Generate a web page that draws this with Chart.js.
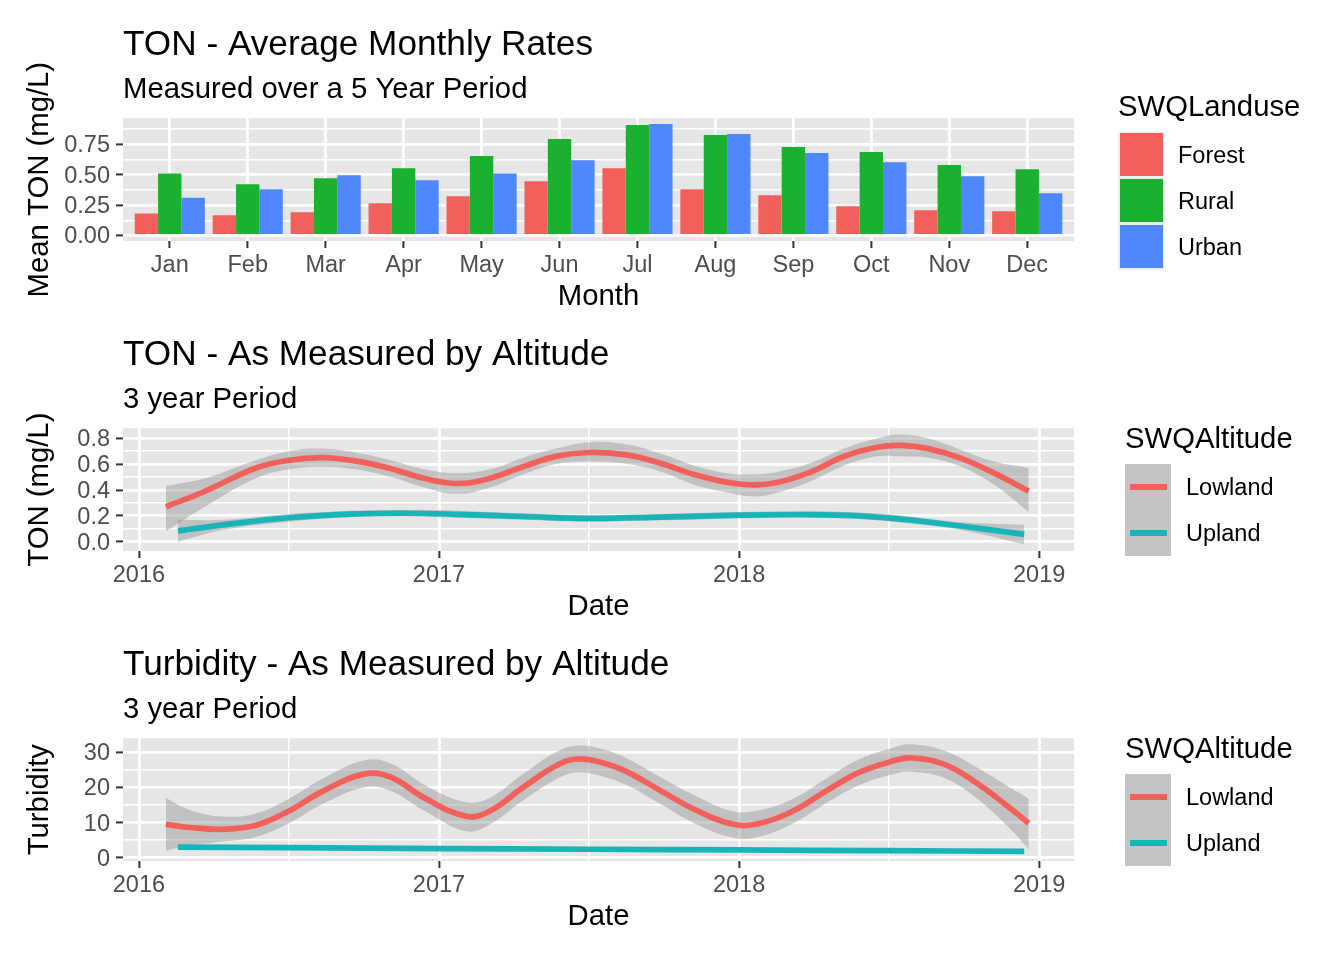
<!DOCTYPE html>
<html>
<head>
<meta charset="utf-8">
<title>SWQ TON and Turbidity</title>
<script src="https://cdn.jsdelivr.net/npm/chart.js@4.4.0/dist/chart.umd.min.js"></script>
<style>
    body { margin: 0; background: #fff; width: 1344px; height: 960px; position: relative; overflow: hidden;
           font-family: "Liberation Sans", Arial, sans-serif; }
    .panel { position: absolute; left: 0; width: 1344px; height: 310px; }
    .legend { position: absolute; color: #000; }
    .legend-title { position: absolute; left: 0; font-size: 29.3px; line-height: 35px; white-space: nowrap; }
    .legend-key { position: absolute; left: 0; width: 46px; height: 46px; }
    .legend-label { position: absolute; font-size: 23.5px; line-height: 46px; white-space: nowrap; }
</style>
</head>
<body>
<div class="panel" style="top:0px"><canvas id="monthlyChart"></canvas></div>
<div class="panel" style="top:310px"><canvas id="tonChart"></canvas></div>
<div class="panel" style="top:620px"><canvas id="turbChart"></canvas></div>

<script>
const FONT = "'Liberation Sans', Arial, sans-serif";

// --- monthly bar data (mean TON mg/L) ---
const months = ['Jan', 'Feb', 'Mar', 'Apr', 'May', 'Jun', 'Jul', 'Aug', 'Sep', 'Oct', 'Nov', 'Dec'];
const landuse = ['Forest', 'Rural', 'Urban'];
const forestTon = [0.18, 0.165, 0.19, 0.264, 0.322, 0.446, 0.553, 0.38, 0.33, 0.239, 0.206, 0.198];
const ruralTon = [0.51, 0.42, 0.47, 0.553, 0.652, 0.792, 0.908, 0.825, 0.726, 0.685, 0.578, 0.545];
const urbanTon = [0.31, 0.38, 0.495, 0.454, 0.51, 0.619, 0.916, 0.833, 0.677, 0.602, 0.487, 0.347];

// --- TON by altitude (smoothed, decimal years) ---
const altitude = ['Lowland', 'Upland'];
const lowTonDates = [2016.09, 2016.22, 2016.39, 2016.50, 2016.61, 2016.72, 2016.84, 2016.95, 2017.06, 2017.17,
    2017.28, 2017.39, 2017.50, 2017.63, 2017.74, 2017.85, 2017.96, 2018.05, 2018.13, 2018.24,
    2018.35, 2018.46, 2018.54, 2018.63, 2018.74, 2018.85, 2018.965];
const lowTon = [0.27, 0.39, 0.57, 0.63, 0.65, 0.625, 0.565, 0.49, 0.45, 0.49,
    0.58, 0.66, 0.69, 0.67, 0.605, 0.52, 0.46, 0.44, 0.46, 0.54,
    0.66, 0.73, 0.745, 0.72, 0.645, 0.53, 0.39];
const lowTonLo = [0.08, 0.27, 0.49, 0.56, 0.58, 0.56, 0.50, 0.42, 0.37, 0.42,
    0.52, 0.60, 0.62, 0.60, 0.54, 0.44, 0.38, 0.35, 0.38, 0.47,
    0.59, 0.66, 0.66, 0.65, 0.58, 0.44, 0.23];
const lowTonHi = [0.43, 0.49, 0.63, 0.70, 0.72, 0.69, 0.63, 0.56, 0.53, 0.56,
    0.65, 0.72, 0.77, 0.75, 0.68, 0.59, 0.53, 0.52, 0.54, 0.61,
    0.72, 0.80, 0.83, 0.80, 0.71, 0.62, 0.57];
const upTonDates = [2016.13, 2016.28, 2016.50, 2016.72, 2016.89, 2017.06, 2017.28, 2017.50, 2017.74, 2018.00,
    2018.24, 2018.40, 2018.57, 2018.74, 2018.95];
const upTon = [0.083, 0.13, 0.185, 0.215, 0.22, 0.212, 0.195, 0.18, 0.19, 0.205, 0.21, 0.2, 0.168, 0.121, 0.057];
const upTonLo = [0.0, 0.09, 0.155, 0.19, 0.195, 0.185, 0.17, 0.155, 0.165, 0.18, 0.185, 0.175, 0.14, 0.09, -0.02];
const upTonHi = [0.17, 0.17, 0.215, 0.24, 0.245, 0.24, 0.22, 0.205, 0.215, 0.23, 0.235, 0.225, 0.195, 0.15, 0.13];

// --- Turbidity by altitude ---
const lowTurbDates = [2016.09, 2016.17, 2016.28, 2016.39, 2016.50, 2016.61, 2016.75, 2016.84, 2016.95, 2017.09,
    2017.17, 2017.28, 2017.39, 2017.46, 2017.55, 2017.63, 2017.74, 2017.85, 2017.98, 2018.07,
    2018.18, 2018.29, 2018.40, 2018.515, 2018.57, 2018.68, 2018.79, 2018.90, 2018.965];
const lowTurb = [9.5, 8.6, 8.1, 9.2, 13.3, 18.8, 23.8, 22.9, 17.1, 11.8,
    13.3, 20.0, 26.2, 28.1, 26.9, 24.3, 19.0, 13.8, 9.5, 9.8,
    13.3, 19.0, 24.3, 27.6, 28.4, 26.7, 21.4, 14.3, 9.8];
const lowTurbLo = [2.0, 3.5, 4.6, 5.9, 9.8, 15.2, 20.0, 19.0, 13.4, 7.5,
    9.5, 16.3, 22.3, 24.3, 23.0, 20.5, 15.2, 9.8, 5.7, 6.0,
    9.8, 15.5, 20.6, 23.8, 24.5, 22.8, 17.0, 8.5, 2.4];
const lowTurbHi = [17.0, 13.6, 11.7, 12.6, 16.8, 22.4, 27.7, 26.8, 20.8, 15.8,
    17.1, 23.8, 30.1, 31.9, 30.8, 28.1, 22.8, 17.8, 13.2, 13.6,
    16.8, 22.5, 28.0, 31.4, 32.3, 30.6, 25.8, 20.1, 16.8];
const upTurbDates = [2016.13, 2016.5, 2017.0, 2017.5, 2018.0, 2018.5, 2018.95];
const upTurb = [3.0, 2.85, 2.6, 2.4, 2.2, 2.0, 1.8];
const upTurbLo = [2.6, 2.6, 2.4, 2.2, 2.0, 1.8, 1.4];
const upTurbHi = [3.4, 3.1, 2.8, 2.6, 2.4, 2.2, 2.2];

const landuseColors = ['#F2605C', '#1BB02F', '#4F87FF'];
const altitudeColors = ['#F2605C', '#18B4B8'];
const ribbonFill = 'rgba(153,153,153,0.48)';

// grey ggplot-like panel behind the grid
const panelBg = {
    id: 'panelBg',
    beforeDraw(chart) {
        const { ctx, chartArea: a } = chart;
        ctx.save();
        ctx.fillStyle = '#E6E6E6';
        ctx.fillRect(a.left, a.top, a.width, a.height);
        ctx.restore();
    }
};

function isStep(v, step) {
    return Math.abs(v / step - Math.round(v / step)) < 1e-6;
}

function axis(cfg) {
    const horizontal = cfg.horizontal;
    return {
        type: 'linear',
        min: cfg.min,
        max: cfg.max,
        offset: false,
        afterBuildTicks: s => { s.ticks = cfg.ticks.map(v => ({ value: v })); },
        afterFit: s => { if (horizontal) s.height = 69; else s.width = 123; },
        border: { display: false },
        grid: {
            offset: false,
            color: '#fff',
            lineWidth: c => cfg.isMajor(c.tick.value) ? 2.8 : 1.4,
            tickColor: c => cfg.isMajor(c.tick.value) ? '#333' : 'rgba(0,0,0,0)',
            tickLength: 7,
            tickWidth: 2
        },
        ticks: {
            autoSkip: false,
            maxRotation: 0,
            padding: horizontal ? 3 : 6,
            labelOffset: horizontal ? 0 : 1.5,
            color: '#4D4D4D',
            font: { family: FONT, size: 23.5, lineHeight: 1.2 },
            callback: v => cfg.isMajor(v) ? cfg.fmt(v) : ''
        },
        title: {
            display: true,
            text: cfg.title,
            color: '#000',
            font: { family: FONT, size: 29.3, lineHeight: 1 },
            padding: horizontal ? { top: 0, bottom: -2 } : { top: 25.4, bottom: 0 }
        }
    };
}

function baseOptions(title, subtitle, x, y) {
    return {
        responsive: true,
        maintainAspectRatio: false,
        animation: false,
        layout: { padding: { top: 23.9, right: 270, bottom: 0, left: 0 } },
        plugins: {
            legend: { display: false },
            tooltip: { enabled: false },
            title: {
                display: true, text: title, align: 'start', fullSize: false, color: '#000',
                font: { family: FONT, size: 35.2, lineHeight: 1.2, weight: 'normal' },
                padding: { top: 0, bottom: 0 }
            },
            subtitle: {
                display: true, text: subtitle, align: 'start', fullSize: false, color: '#000',
                font: { family: FONT, size: 29.3, lineHeight: 1.2, weight: 'normal' },
                padding: { top: 6.3, bottom: 10.7 }
            }
        },
        scales: { x: x, y: y }
    };
}

function toPoints(xs, ys) {
    return xs.map((x, i) => ({ x: x, y: ys[i] }));
}

function smoothDatasets(groups) {
    // ribbons first (hi fills down to lo), then the lines on top
    const sets = [];
    groups.forEach(g => {
        sets.push({ data: toPoints(g.dates, g.hi), borderWidth: 0, pointRadius: 0, tension: 0.4,
            fill: '+1', backgroundColor: ribbonFill, order: 1 });
        sets.push({ data: toPoints(g.dates, g.lo), borderWidth: 0, pointRadius: 0, tension: 0.4,
            fill: false, order: 1 });
    });
    groups.forEach(g => {
        sets.push({ label: g.label, data: toPoints(g.dates, g.mean), borderColor: g.color, borderWidth: 5.7,
            pointRadius: 0, tension: 0.4, fill: false, order: 0 });
    });
    return sets;
}

const monthIdx = months.map((m, i) => i + 1);
const dateTicks = [2016, 2016.5, 2017, 2017.5, 2018, 2018.5, 2019];

// Panel 1: bars
new Chart(document.getElementById('monthlyChart').getContext('2d'), {
    type: 'bar',
    data: {
        datasets: [forestTon, ruralTon, urbanTon].map((vals, k) => ({
            label: landuse[k],
            data: toPoints(monthIdx, vals),
            backgroundColor: landuseColors[k],
            borderWidth: 0,
            categoryPercentage: 0.9,
            barPercentage: 1.0
        }))
    },
    options: baseOptions('TON - Average Monthly Rates', 'Measured over a 5 Year Period',
        axis({ horizontal: true, min: 0.4, max: 12.6, ticks: monthIdx, isMajor: () => true,
            fmt: v => months[Math.round(v) - 1], title: 'Month' }),
        axis({ horizontal: false, min: -0.046, max: 0.963,
            ticks: [0, 0.125, 0.25, 0.375, 0.5, 0.625, 0.75, 0.875],
            isMajor: v => isStep(v, 0.25), fmt: v => v.toFixed(2), title: 'Mean TON (mg/L)' })),
    plugins: [panelBg]
});

// Panel 2: TON smooth
new Chart(document.getElementById('tonChart').getContext('2d'), {
    type: 'line',
    data: {
        datasets: smoothDatasets([
            { label: altitude[0], color: altitudeColors[0], dates: lowTonDates, mean: lowTon, lo: lowTonLo, hi: lowTonHi },
            { label: altitude[1], color: altitudeColors[1], dates: upTonDates, mean: upTon, lo: upTonLo, hi: upTonHi }
        ])
    },
    options: baseOptions('TON - As Measured by Altitude', '3 year Period',
        axis({ horizontal: true, min: 2015.947, max: 2019.116, ticks: dateTicks,
            isMajor: v => isStep(v, 1), fmt: v => String(Math.round(v)), title: 'Date' }),
        axis({ horizontal: false, min: -0.072, max: 0.877,
            ticks: [0, 0.1, 0.2, 0.3, 0.4, 0.5, 0.6, 0.7, 0.8],
            isMajor: v => isStep(v, 0.2), fmt: v => v.toFixed(1), title: 'TON (mg/L)' })),
    plugins: [panelBg]
});

// Panel 3: Turbidity smooth
new Chart(document.getElementById('turbChart').getContext('2d'), {
    type: 'line',
    data: {
        datasets: smoothDatasets([
            { label: altitude[0], color: altitudeColors[0], dates: lowTurbDates, mean: lowTurb, lo: lowTurbLo, hi: lowTurbHi },
            { label: altitude[1], color: altitudeColors[1], dates: upTurbDates, mean: upTurb, lo: upTurbLo, hi: upTurbHi }
        ])
    },
    options: baseOptions('Turbidity - As Measured by Altitude', '3 year Period',
        axis({ horizontal: true, min: 2015.947, max: 2019.116, ticks: dateTicks,
            isMajor: v => isStep(v, 1), fmt: v => String(Math.round(v)), title: 'Date' }),
        axis({ horizontal: false, min: -0.95, max: 34,
            ticks: [0, 5, 10, 15, 20, 25, 30],
            isMajor: v => isStep(v, 10), fmt: v => String(v), title: 'Turbidity' })),
    plugins: [panelBg]
});

// legends drawn as html next to each panel
function addLegend(left, top, title, names, colors, kind) {
    const box = document.createElement('div');
    box.className = 'legend';
    box.style.left = left + 'px';
    box.style.top = top + 'px';
    let html = `<div class="legend-title" style="top:0px">${title}</div>`;
    names.forEach((name, i) => {
        const y = 44 + i * 46;
        if (kind === 'rect') {
            html += `<div class="legend-key" style="top:${y}px;background:#EFEFEF">` +
                `<div style="position:absolute;left:1.5px;top:1.5px;right:1.5px;bottom:1.5px;background:${colors[i]}"></div></div>`;
        } else {
            html += `<div class="legend-key" style="top:${y}px;background:#C4C4C4">` +
                `<div style="position:absolute;left:4.5px;right:4.5px;top:20.2px;height:5.7px;background:${colors[i]}"></div></div>`;
        }
        html += `<div class="legend-label" style="top:${y}px;left:${kind === 'rect' ? 60 : 61}px">${name}</div>`;
    });
    box.innerHTML = html;
    document.body.appendChild(box);
}

addLegend(1118, 87.5, 'SWQLanduse', landuse, landuseColors, 'rect');
addLegend(1125, 420, 'SWQAltitude', altitude, altitudeColors, 'line');
addLegend(1125, 730, 'SWQAltitude', altitude, altitudeColors, 'line');
</script>
</body>
</html>
